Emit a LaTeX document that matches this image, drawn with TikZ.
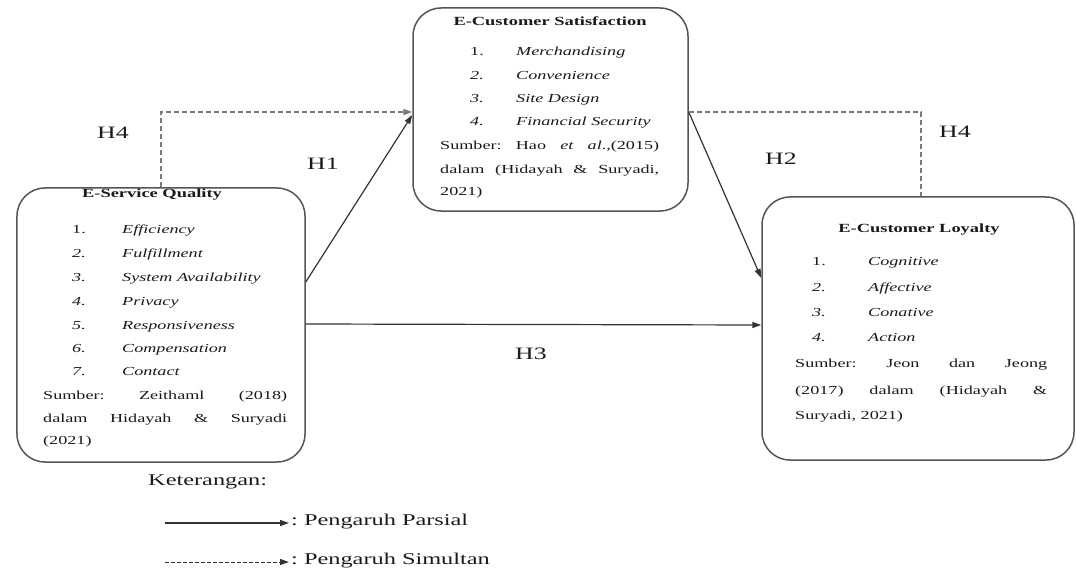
\documentclass[tikz,border=0pt]{standalone}
\usepackage{fontspec}
\setmainfont{Liberation Serif}[FakeStretch=1.48]
\usetikzlibrary{arrows.meta}
\definecolor{boxline}{HTML}{555555}
\definecolor{arrline}{HTML}{333333}
\definecolor{dashline}{HTML}{7A7A7A}
\definecolor{txt}{HTML}{1A1A1A}
\frenchspacing
\tikzset{
  varbox/.style={draw=boxline, line width=1.5bp, rounded corners=28bp, fill=white,
    inner sep=0pt, minimum width=#1},
  ttl/.style={font=\fontsize{12.5}{14}\selectfont\bfseries, text=txt, inner sep=0pt, anchor=mid},
  itm/.style={font=\fontsize{12.3}{14}\selectfont, text=txt, inner sep=0pt, anchor=mid west},
  hlab/.style={font=\fontsize{17.5}{20}\selectfont, text=txt, inner sep=0pt, anchor=mid},
  leg/.style={font=\fontsize{16.5}{19}\selectfont, text=txt, inner sep=0pt, anchor=mid west},
  solidarr/.style={draw=arrline, line width=1.2bp, -{Triangle[length=9bp,width=6bp]}},
  dasharr/.style={draw=dashline, line width=1.5bp, dash pattern=on 5bp off 3bp},
}
\begin{document}
\begin{tikzpicture}[x=1bp,y=-1bp]
\useasboundingbox (0,0) rectangle (1076,582);

% boxes
\node[varbox=288bp, minimum height=274bp] (esq) at (161,325) {};
\node[varbox=275bp, minimum height=203bp] (ecs) at (550.5,109.5) {};
\node[varbox=312bp, minimum height=263bp] (ecl) at (918,328.5) {};

% E-Service Quality
\node[ttl] (esqt) at (152,195) {E-Service Quality};
\node[itm] (q1n) at (72,231) {1.};
\node[itm] (q1) at (122,231) {\itshape Efficiency};
\node[itm] (q2n) at (72,255) {\itshape 2.};
\node[itm] (q2) at (122,255) {\itshape Fulfillment};
\node[itm] (q3n) at (72,279) {\itshape 3.};
\node[itm] (q3) at (122,279) {\itshape System Availability};
\node[itm] (q4n) at (72,303) {\itshape 4.};
\node[itm] (q4) at (122,303) {\itshape Privacy};
\node[itm] (q5n) at (72,327) {\itshape 5.};
\node[itm] (q5) at (122,327) {\itshape Responsiveness};
\node[itm] (q6n) at (72,350) {\itshape 6.};
\node[itm] (q6) at (122,350) {\itshape Compensation};
\node[itm] (q7n) at (72,373) {\itshape 7.};
\node[itm] (q7) at (122,373) {\itshape Contact};
\node[itm] (qs1) at (43,397) {\makebox[244bp][s]{Sumber: Zeithaml (2018)}};
\node[itm] (qs2) at (43,420) {\makebox[244bp][s]{dalam Hidayah \& Suryadi}};
\node[itm] (qs3) at (43,442) {(2021)};

% E-Customer Satisfaction
\node[ttl] (ecst) at (550,23) {E-Customer Satisfaction};
\node[itm] (s1n) at (470,53) {1.};
\node[itm] (s1) at (516,53) {\itshape Merchandising};
\node[itm] (s2n) at (470,77) {\itshape 2.};
\node[itm] (s2) at (516,77) {\itshape Convenience};
\node[itm] (s3n) at (470,100) {\itshape 3.};
\node[itm] (s3) at (516,100) {\itshape Site Design};
\node[itm] (s4n) at (470,123) {\itshape 4.};
\node[itm] (s4) at (516,123) {\itshape Financial Security};
\node[itm] (ss1) at (440,147) {\makebox[219bp][s]{Sumber: Hao \textit{et al}.,(2015)}};
\node[itm] (ss2) at (440,171) {\makebox[219bp][s]{dalam (Hidayah \& Suryadi,}};
\node[itm] (ss3) at (440,193) {2021)};

% E-Customer Loyalty
\node[ttl] (eclt) at (919,230) {E-Customer Loyalty};
\node[itm] (l1n) at (812,263) {1.};
\node[itm] (l1) at (868,263) {\itshape Cognitive};
\node[itm] (l2n) at (812,289) {\itshape 2.};
\node[itm] (l2) at (868,289) {\itshape Affective};
\node[itm] (l3n) at (812,314) {\itshape 3.};
\node[itm] (l3) at (868,314) {\itshape Conative};
\node[itm] (l4n) at (812,339) {\itshape 4.};
\node[itm] (l4) at (868,339) {\itshape Action};
\node[itm] (ls1) at (795,365) {\makebox[252bp][s]{Sumber: Jeon dan Jeong}};
\node[itm] (ls2) at (795,392) {\makebox[252bp][s]{(2017) dalam (Hidayah \&}};
\node[itm] (ls3) at (795,417) {Suryadi, 2021)};

% connectors
\draw[solidarr] ([yshift=43bp]esq.east) -- ([yshift=-5.5bp]ecs.west);
\draw[solidarr] ([yshift=-2.5bp]ecs.east) -- ([yshift=50.5bp]ecl.west);
\draw[solidarr] ([yshift=1bp]esq.east) -- ([yshift=3.5bp]ecl.west);
\draw[dasharr, -{Triangle[length=9bp,width=6bp]}] (esq.north) |- ([yshift=-2.5bp]ecs.west);
\draw[dasharr] ([yshift=-2.5bp]ecs.east) -| ([xshift=3bp]ecl.north);

% hypothesis labels
\node[hlab] (h4a) at (113,136) {H4};
\node[hlab] (h1) at (323,167) {H1};
\node[hlab] (h2) at (781,162) {H2};
\node[hlab] (h4b) at (955,135) {H4};
\node[hlab] (h3) at (531,357) {H3};

% legend
\node[leg] (ket) at (148,483) {Keterangan:};
\coordinate (lp1) at (165,523);
\coordinate (lp2) at (289,523);
\draw[solidarr] (lp1) -- (lp2);
\node[leg] (lpt) at (291,523) {: Pengaruh Parsial};
\coordinate (ld1) at (165,562);
\coordinate (ld2) at (289,562);
\draw[draw=arrline, line width=1bp, dash pattern=on 3.5bp off 2.5bp, -{Triangle[length=9bp,width=6bp]}] (ld1) -- (ld2);
\node[leg] (ldt) at (291,562) {: Pengaruh Simultan};
\end{tikzpicture}
\end{document}
